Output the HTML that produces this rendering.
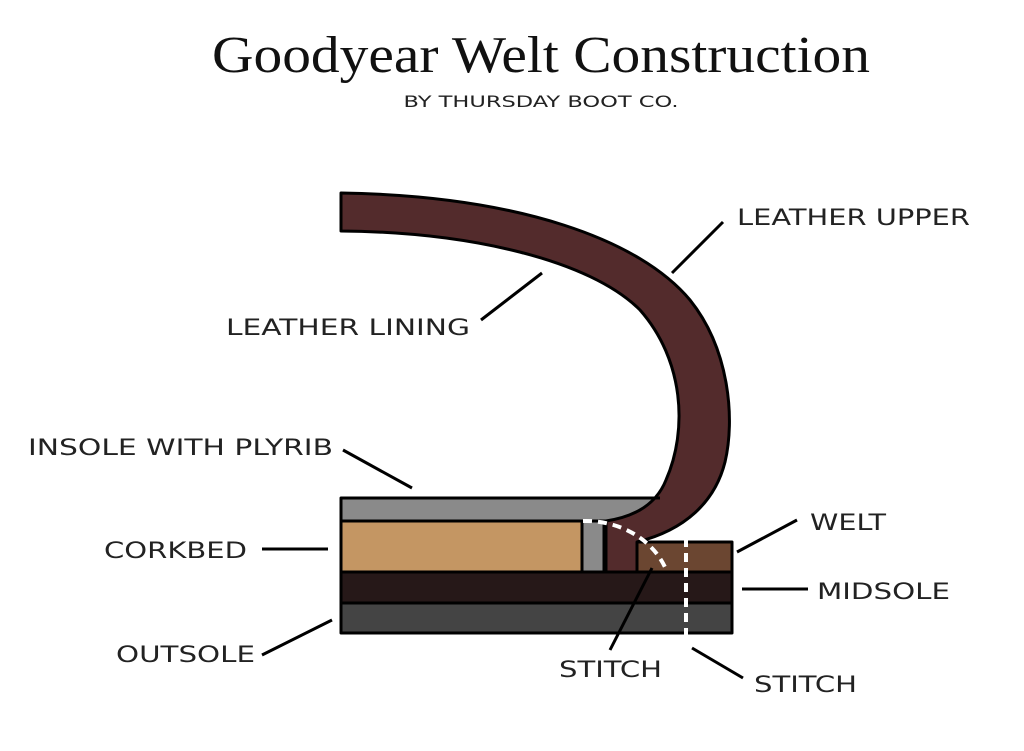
<!DOCTYPE html>
<html><head><meta charset="utf-8"><style>
html,body{margin:0;padding:0;background:#fff;}
svg{display:block;}
.l{font-family:"DejaVu Sans","Liberation Sans",sans-serif;font-size:22px;fill:#222;font-weight:normal;}
</style></head><body>
<svg width="1024" height="751" viewBox="0 0 1024 751" xmlns="http://www.w3.org/2000/svg">
<text x="541" y="72" text-anchor="middle" font-family="Liberation Serif,serif" font-size="52" fill="#111" textLength="658" lengthAdjust="spacingAndGlyphs">Goodyear Welt Construction</text>
<text x="541" y="107" text-anchor="middle" font-family="DejaVu Sans,sans-serif" font-size="16" fill="#222" textLength="275" lengthAdjust="spacingAndGlyphs">BY THURSDAY BOOT CO.</text>

<g stroke="#000" stroke-width="3" stroke-linejoin="round">
<rect x="341" y="603" width="391" height="30" fill="#444"/>
<rect x="341" y="572" width="391" height="31" fill="#261818"/>
<rect x="341" y="521" width="241" height="51" fill="#c49663"/>
<rect x="582" y="521" width="22" height="51" fill="#8a8a8a"/>
<rect x="637" y="542" width="95" height="30" fill="#6b4631"/>
<path d="M341,498 L670,498 L670,521 L341,521 Z" fill="#8a8a8a"/>
<path d="M341,193 C520,196 640,240 690,300 C730,350 735,420 725,462 C715,502 685,530 637,542 L637,572 L606,572 L606,521 C640,516 658,500 666,480 C688,430 684,360 640,310 C590,260 470,232 341,231 Z" fill="#532b2c"/>
</g>
<path d="M341,498 L660,498" stroke="#000" stroke-width="3"/>
<path d="M583,521 C620,520 655,540 667,572" fill="none" stroke="#fff" stroke-width="4" stroke-dasharray="9,6"/>
<path d="M686,538 L686,640" stroke="#fff" stroke-width="4" stroke-dasharray="9,6"/>

<g stroke="#000" stroke-width="3">
<line x1="723" y1="222" x2="672" y2="273"/>
<line x1="481" y1="320" x2="542" y2="273"/>
<line x1="343" y1="450" x2="412" y2="488"/>
<line x1="262" y1="549" x2="328" y2="549"/>
<line x1="797" y1="520" x2="737" y2="552"/>
<line x1="742" y1="589" x2="808" y2="589"/>
<line x1="262" y1="655" x2="332" y2="620"/>
<line x1="610" y1="650" x2="652" y2="568"/>
<line x1="692" y1="648" x2="743" y2="678"/>
</g>

<text class="l" x="737" y="225" textLength="233" lengthAdjust="spacingAndGlyphs">LEATHER UPPER</text>
<text class="l" x="226" y="335" textLength="244" lengthAdjust="spacingAndGlyphs">LEATHER LINING</text>
<text class="l" x="28" y="455" textLength="305" lengthAdjust="spacingAndGlyphs">INSOLE WITH PLYRIB</text>
<text class="l" x="104" y="558" textLength="143" lengthAdjust="spacingAndGlyphs">CORKBED</text>
<text class="l" x="810" y="530" textLength="76" lengthAdjust="spacingAndGlyphs">WELT</text>
<text class="l" x="817" y="599" textLength="133" lengthAdjust="spacingAndGlyphs">MIDSOLE</text>
<text class="l" x="116" y="662" textLength="139" lengthAdjust="spacingAndGlyphs">OUTSOLE</text>
<text class="l" x="559" y="677" textLength="103" lengthAdjust="spacingAndGlyphs">STITCH</text>
<text class="l" x="754" y="692" textLength="103" lengthAdjust="spacingAndGlyphs">STITCH</text>
</svg>
</body></html>
